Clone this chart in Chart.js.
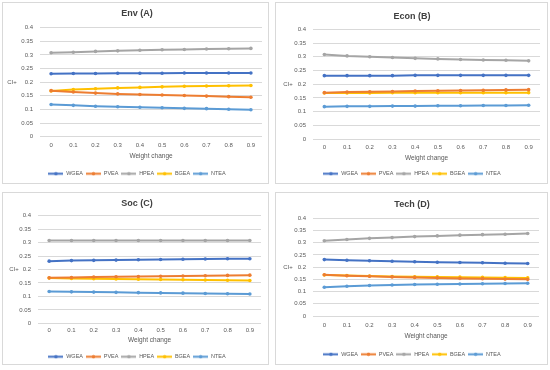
<!DOCTYPE html>
<html>
<head>
<meta charset="utf-8">
<script src="https://cdn.jsdelivr.net/npm/chart.js@4"></script>
<style>
  body { margin: 0; background: #fff; width: 550px; height: 370px; position: relative; overflow: hidden; }
  .panel { position: absolute; border: 1px solid #d9d9d9; background: #fff; }
  .panel canvas { display: block; }
</style>
</head>
<body>
<div class="panel" style="left:2px;top:2px;"><canvas id="envChart" width="265" height="180"></canvas></div>
<div class="panel" style="left:275px;top:2px;"><canvas id="econChart" width="271" height="180"></canvas></div>
<div class="panel" style="left:2px;top:192px;"><canvas id="socChart" width="265" height="171"></canvas></div>
<div class="panel" style="left:275px;top:192px;"><canvas id="techChart" width="271" height="171"></canvas></div>
<script>
const weights = ['0', '0.1', '0.2', '0.3', '0.4', '0.5', '0.6', '0.7', '0.8', '0.9'];
const seriesNames = ['WGEA', 'PVEA', 'HPEA', 'BGEA', 'NTEA'];
const yTicks = [0, 0.05, 0.1, 0.15, 0.2, 0.25, 0.3, 0.35, 0.4];

// Env (A)
const envWGEA = [0.231, 0.232, 0.232, 0.233, 0.233, 0.233, 0.234, 0.234, 0.234, 0.234];
const envPVEA = [0.169, 0.164, 0.160, 0.157, 0.155, 0.153, 0.151, 0.149, 0.147, 0.145];
const envHPEA = [0.308, 0.310, 0.313, 0.315, 0.317, 0.319, 0.320, 0.322, 0.323, 0.324];
const envBGEA = [0.168, 0.173, 0.176, 0.179, 0.181, 0.183, 0.185, 0.186, 0.187, 0.188];
const envNTEA = [0.118, 0.115, 0.112, 0.110, 0.108, 0.106, 0.104, 0.103, 0.101, 0.099];

// Econ (B)
const econWGEA = [0.231, 0.231, 0.231, 0.231, 0.232, 0.232, 0.232, 0.232, 0.232, 0.232];
const econPVEA = [0.169, 0.171, 0.172, 0.173, 0.175, 0.176, 0.177, 0.178, 0.179, 0.180];
const econHPEA = [0.308, 0.303, 0.300, 0.297, 0.294, 0.292, 0.290, 0.288, 0.287, 0.285];
const econBGEA = [0.168, 0.168, 0.168, 0.169, 0.169, 0.169, 0.169, 0.169, 0.169, 0.169];
const econNTEA = [0.118, 0.119, 0.119, 0.120, 0.120, 0.121, 0.121, 0.122, 0.122, 0.123];

// Soc (C)
const socWGEA = [0.231, 0.233, 0.234, 0.235, 0.236, 0.237, 0.238, 0.239, 0.240, 0.240];
const socPVEA = [0.169, 0.170, 0.172, 0.173, 0.174, 0.175, 0.176, 0.177, 0.178, 0.179];
const socHPEA = [0.308, 0.308, 0.308, 0.308, 0.308, 0.308, 0.308, 0.308, 0.308, 0.308];
const socBGEA = [0.168, 0.167, 0.166, 0.165, 0.164, 0.163, 0.162, 0.161, 0.160, 0.159];
const socNTEA = [0.118, 0.117, 0.116, 0.115, 0.114, 0.113, 0.112, 0.111, 0.110, 0.109];

// Tech (D)
const techWGEA = [0.231, 0.228, 0.226, 0.224, 0.222, 0.220, 0.219, 0.218, 0.216, 0.215];
const techPVEA = [0.169, 0.165, 0.163, 0.160, 0.158, 0.156, 0.154, 0.153, 0.151, 0.150];
const techHPEA = [0.308, 0.313, 0.318, 0.321, 0.325, 0.328, 0.331, 0.333, 0.335, 0.338];
const techBGEA = [0.168, 0.166, 0.164, 0.162, 0.161, 0.160, 0.159, 0.158, 0.157, 0.156];
const techNTEA = [0.118, 0.122, 0.125, 0.127, 0.129, 0.130, 0.131, 0.132, 0.133, 0.134];

const colors = ['#4472C4', '#ED7D31', '#A5A5A5', '#FFC000', '#5B9BD5'];
const fontFamily = '"Liberation Sans", Arial, sans-serif';
const textColor = '#595959';

// Excel-like legend symbol: short line with a dot in the middle
const legendIcons = colors.map(col => {
  const cv = document.createElement('canvas');
  cv.width = 15;
  cv.height = 5;
  const c = cv.getContext('2d');
  c.strokeStyle = col;
  c.lineWidth = 2;
  c.beginPath();
  c.moveTo(0, 2.5);
  c.lineTo(15, 2.5);
  c.stroke();
  c.fillStyle = col;
  c.beginPath();
  c.arc(7.5, 2.5, 1.8, 0, Math.PI * 2);
  c.fill();
  return cv;
});

// horizontal "CI+" label like Excel
const ciLabel = {
  id: 'ciLabel',
  afterDraw(chart, args, opts) {
    const c = chart.ctx;
    const area = chart.chartArea;
    c.save();
    c.font = '6px ' + fontFamily;
    c.fillStyle = textColor;
    c.textAlign = 'center';
    c.textBaseline = 'middle';
    c.fillText('CI+', opts.x, (area.top + area.bottom) / 2);
    c.restore();
  }
};

function createChart(id, title, data, lay) {
  const ctx = document.getElementById(id).getContext('2d');
  return new Chart(ctx, {
    type: 'line',
    data: {
      labels: weights,
      datasets: seriesNames.map((name, i) => ({
        label: name,
        data: data[i],
        borderColor: colors[i],
        backgroundColor: colors[i],
        borderWidth: 2,
        pointRadius: 1.8,
        pointBorderWidth: 0,
        pointBackgroundColor: colors[i],
        tension: 0
      }))
    },
    plugins: [ciLabel],
    options: {
      responsive: false,
      animation: false,
      layout: { padding: { left: lay.padLeft, right: lay.right, top: 0, bottom: lay.bottom } },
      plugins: {
        ciLabel: { x: lay.ciX },
        title: {
          display: true,
          text: title,
          color: '#404040',
          font: { family: fontFamily, size: 9, weight: 'bold' },
          padding: { top: lay.titleTop, bottom: lay.titleBottom }
        },
        legend: {
          position: 'bottom',
          labels: {
            color: textColor,
            font: { family: fontFamily, size: 5.5 },
            usePointStyle: true,
            pointStyleWidth: 15,
            padding: 3,
            generateLabels: chart => Chart.defaults.plugins.legend.labels.generateLabels(chart)
              .map((item, i) => Object.assign(item, { pointStyle: legendIcons[i] }))
          }
        },
        tooltip: { enabled: false }
      },
      scales: {
        x: {
          offset: true,
          afterFit: s => { s.height = lay.xHeight; },
          grid: { display: false, drawTicks: false },
          border: { display: false },
          ticks: { color: textColor, font: { family: fontFamily, size: 6 }, padding: lay.xTickPad, maxRotation: 0 },
          title: {
            display: true,
            text: 'Weight change',
            color: textColor,
            font: { family: fontFamily, size: 6.5 },
            padding: { top: 0, bottom: lay.xTitleBottom }
          }
        },
        y: {
          min: 0,
          max: 0.4,
          afterFit: s => { s.width = lay.yWidth; },
          afterBuildTicks: s => { s.ticks = yTicks.map(v => ({ value: v })); },
          grid: { color: '#d9d9d9', drawTicks: false, lineWidth: 1 },
          border: { display: false },
          ticks: {
            color: textColor,
            font: { family: fontFamily, size: 6 },
            padding: 7,
            autoSkip: false,
            callback: v => String(+v.toFixed(2))
          }
        }
      }
    }
  });
}

const envChart = createChart('envChart', 'Env (A)', [envWGEA, envPVEA, envHPEA, envBGEA, envNTEA],
  { padLeft: 9, yWidth: 28, right: 6, bottom: -3.45, titleTop: 5.6, titleBottom: 8.3, xHeight: 31.25, xTickPad: 5.4, xTitleBottom: 8.05, ciX: 9 });
const econChart = createChart('econChart', 'Econ (B)', [econWGEA, econPVEA, econHPEA, econBGEA, econNTEA],
  { padLeft: 8, yWidth: 29, right: 7, bottom: -3.45, titleTop: 8.3, titleBottom: 7.2, xHeight: 28.95, xTickPad: 4.7, xTitleBottom: 5.75, ciX: 12 });
const socChart = createChart('socChart', 'Soc (C)', [socWGEA, socPVEA, socHPEA, socBGEA, socNTEA],
  { padLeft: 10, yWidth: 25, right: 7, bottom: -5.45, titleTop: 5.6, titleBottom: 6.3, xHeight: 27.65, xTickPad: 3.8, xTitleBottom: 6.35, ciX: 11 });
const techChart = createChart('techChart', 'Tech (D)', [techWGEA, techPVEA, techHPEA, techBGEA, techNTEA],
  { padLeft: 9, yWidth: 28, right: 8, bottom: -3.05, titleTop: 5.9, titleBottom: 8.6, xHeight: 32.55, xTickPad: 5.7, xTitleBottom: 8.35, ciX: 12 });
</script>
</body>
</html>
